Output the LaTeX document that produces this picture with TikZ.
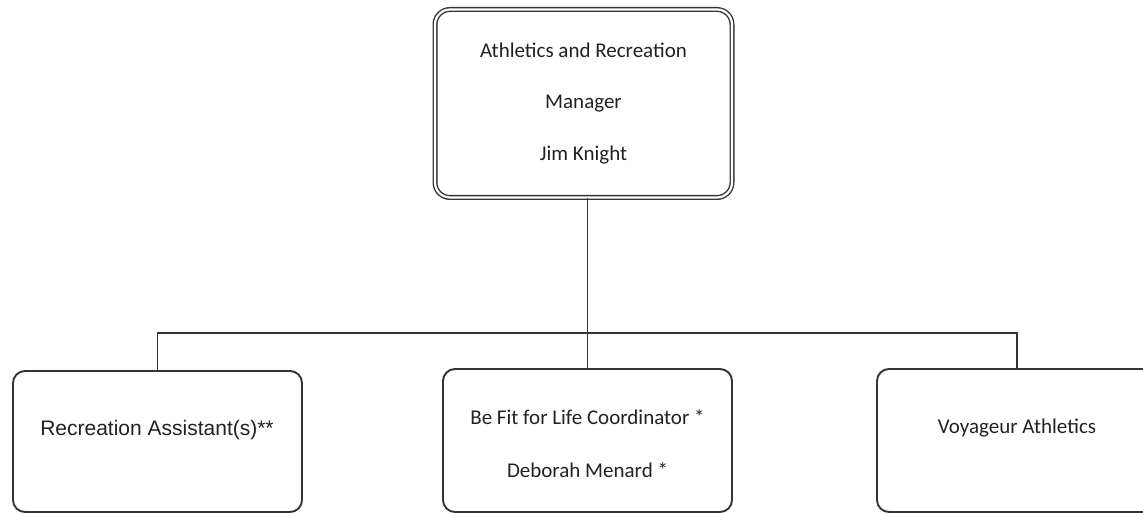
\documentclass[tikz,border=0pt]{standalone}
\usepackage{fontspec}
\setmainfont{Carlito}
\newfontfamily\arialfont{Liberation Sans}
\definecolor{ink}{HTML}{343434}
\definecolor{txt}{HTML}{222222}
\begin{document}
\begin{tikzpicture}[x=1pt,y=-1pt,
  box/.style={draw=ink, line width=1.9pt, rounded corners=12pt, inner sep=0pt, fill=white},
  topbox/.style={draw=ink, line width=1.4pt, double=white, double distance=2.2pt, rounded corners=15pt, inner sep=0pt, minimum width=297pt, minimum height=188pt, align=center, text=txt, font=\fontsize{21}{51.5}\selectfont},
  lbl/.style={text=txt, inner sep=0pt, align=center, font=\fontsize{21}{53}\selectfont},
  conn/.style={draw=ink, line width=1.9pt}
]
\useasboundingbox (0,0) rectangle (1143,513);
\fill[white] (0,0) rectangle (1143,513);

\node[topbox] (top) at (583.5,103.5) {Athletics and Recreation\\Manager\\Jim Knight};

\node[box, minimum width=289pt, minimum height=141pt] (left) at (157.5,441.5) {};
\node[box, minimum width=289pt, minimum height=143pt] (mid) at (587.5,440.5) {};
\node[box, minimum width=280pt, minimum height=143pt] (right) at (1017,440.5) {};

\node[lbl, font=\arialfont\fontsize{21}{25}\selectfont] (lefttext) at (157,430) {Recreation Assistant(s)**};
\node[lbl] (midtext) at (587.5,443.5) {Be Fit for Life Coordinator *\\Deborah Menard *};
\node[lbl] (righttext) at (1017,428) {Voyageur Athletics};

\coordinate (bus) at (0,333);
\draw[conn] (top.south -| mid.north) -- (mid.north);
\draw[conn] (left.north) |- (bus -| right.north) -- (right.north);
\end{tikzpicture}
\end{document}
